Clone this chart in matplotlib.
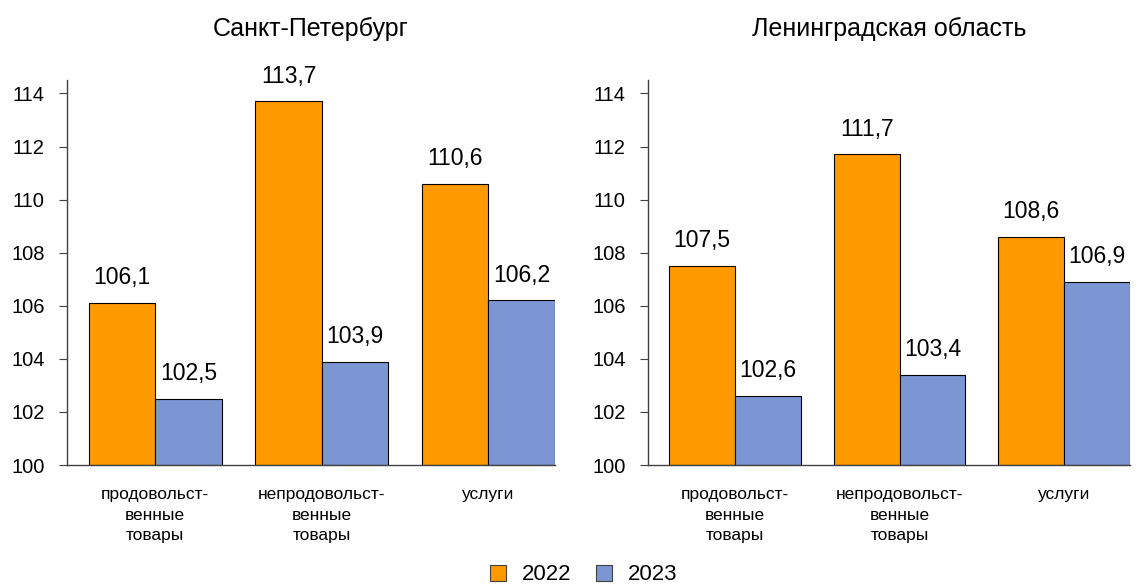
import numpy as np
import matplotlib
matplotlib.use("Agg")
import matplotlib.pyplot as plt
from matplotlib.patches import Patch

plt.rcParams['font.family'] = ['Liberation Sans', 'DejaVu Sans']

categories = ["продовольст-\nвенные\nтовары", "непродовольст-\nвенные\nтовары", "услуги"]
years = ["2022", "2023"]
titles = ["Санкт-Петербург", "Ленинградская область"]
spb_2022 = [106.1, 113.7, 110.6]
spb_2023 = [102.5, 103.9, 106.2]
lo_2022 = [107.5, 111.7, 108.6]
lo_2023 = [102.6, 103.4, 106.9]
yticks = [100, 102, 104, 106, 108, 110, 112, 114]

colors = ["#ff9900", "#7b96d2"]
axis_col = "#404040"

fig = plt.figure(figsize=(11.42, 5.85), dpi=100)
ax1 = fig.add_axes([0.0587, 0.205, 0.4273, 0.658])
ax2 = fig.add_axes([0.5674, 0.205, 0.4221, 0.658])

x = np.arange(len(categories))
w = 0.4

for ax, title, s1, s2 in [(ax1, titles[0], spb_2022, spb_2023),
                          (ax2, titles[1], lo_2022, lo_2023)]:
    for k, vals in enumerate([s1, s2]):
        pos = x - w / 2 + k * w
        ax.bar(pos, [v - 100 for v in vals], w, bottom=100,
               color=colors[k], edgecolor="black", linewidth=0.8)
        for p, v in zip(pos, vals):
            ax.annotate(f"{v:.1f}".replace(".", ","), (p, v),
                        xytext=(0, 13.5), textcoords="offset points",
                        ha="center", va="baseline", fontsize=16.5)
    ax.set_ylim(100, 114.5)
    ax.set_xlim(-0.53, 2.4)
    ax.set_yticks(yticks)
    ax.set_yticklabels([str(t) for t in yticks], fontsize=14.5)
    ax.set_xticks(x)
    ax.set_xticklabels(categories, fontsize=12.5, linespacing=1.45, va="top")
    ax.tick_params(axis="x", length=0, pad=16)
    ax.tick_params(axis="y", direction="out", length=6, color=axis_col, pad=10)
    for sp in ["top", "right"]:
        ax.spines[sp].set_visible(False)
    for sp in ["left", "bottom"]:
        ax.spines[sp].set_color(axis_col)
        ax.spines[sp].set_linewidth(1.0)
    ax.set_title(title, fontsize=18, pad=32)

handles = [Patch(facecolor=c, edgecolor=axis_col, linewidth=0.8) for c in colors]
fig.legend(handles, years, loc="lower center", bbox_to_anchor=(0.511, -0.035),
           ncol=2, frameon=False, fontsize=16, handlelength=0.75, handleheight=0.75,
           handletextpad=0.7, columnspacing=1.1)

fig.savefig("out.png", dpi=100)
